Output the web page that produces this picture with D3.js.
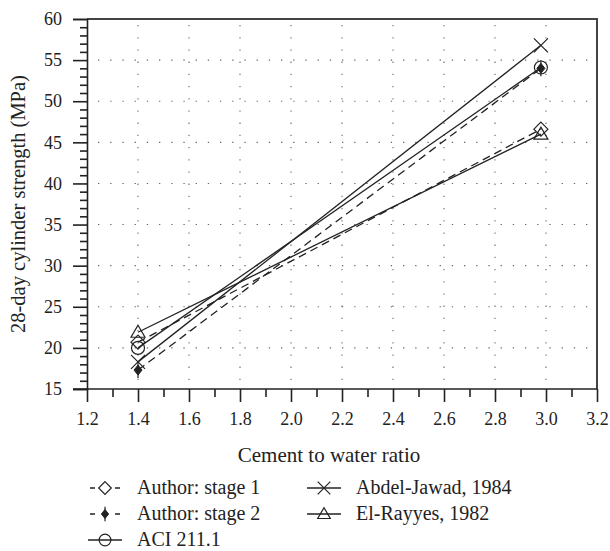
<!DOCTYPE html>
<html lang="en">
<head>
<meta charset="UTF-8">
<title>28-day cylinder strength</title>
<script src="https://cdn.jsdelivr.net/npm/d3@7"></script>
<style>
  body { margin: 0; background: #fff; }
  svg text { font-family: "Liberation Serif", "Times New Roman", serif !important; fill: #222; }
</style>
</head>
<body>
<script>
    // data
    var cwRatio = [1.4, 2.98];
    var stage1 = [20.7, 46.6];
    var stage2 = [17.3, 54.0];
    var aci = [20.0, 54.1];
    var abdelJawad = [18.3, 56.8];
    var elRayyes = [21.9, 46.0];

    var seriesNames = ["Author: stage 1", "Author: stage 2", "ACI 211.1", "Abdel-Jawad, 1984", "El-Rayyes, 1982"];
    var seriesVals = [stage1, stage2, aci, abdelJawad, elRayyes];
    var seriesSym = ["diamond", "dot", "circle", "cross", "triangle"];
    var seriesDash = [true, true, false, false, false];

    var xTicks = [1.2, 1.4, 1.6, 1.8, 2.0, 2.2, 2.4, 2.6, 2.8, 3.0, 3.2];
    var yTicks = [15, 20, 25, 30, 35, 40, 45, 50, 55, 60];

    var width = 610, height = 551;
    var svg = d3.select("body").append("svg")
        .attr("width", width)
        .attr("height", height);

    var x = d3.scaleLinear().domain([1.2, 3.2]).range([87, 597]);
    var y = d3.scaleLinear().domain([15, 60]).range([389, 19]);
    var ink = "#222";

    // dotted grid
    var grid = svg.append("g").attr("stroke", "#666").attr("stroke-width", 1.1)
        .attr("stroke-dasharray", "1.3,10.9");
    grid.selectAll(".gx").data(xTicks.slice(1, -1)).enter().append("line")
        .attr("x1", d => x(d)).attr("x2", d => x(d))
        .attr("y1", y(60) + 6).attr("y2", y(15));
    grid.selectAll(".gy").data(yTicks.slice(1, -1)).enter().append("line")
        .attr("y1", d => y(d)).attr("y2", d => y(d))
        .attr("x1", x(1.2) + 11).attr("x2", x(3.2));

    // frame top/right
    svg.append("path")
        .attr("d", "M" + x(1.2) + "," + y(60) + "H" + x(3.2) + "V" + y(15))
        .attr("fill", "none").attr("stroke", "#444").attr("stroke-width", 2);

    // axes
    var xAxis = d3.axisBottom(x).tickValues(xTicks).tickSize(13).tickPadding(10)
        .tickFormat(d3.format(".1f"));
    var gx = svg.append("g").attr("transform", "translate(0," + y(15) + ")").call(xAxis);
    var xMinor = d3.axisBottom(x).tickValues(d3.range(1.3, 3.2, 0.2)).tickSize(8).tickFormat("");
    var gxm = svg.append("g").attr("transform", "translate(0," + y(15) + ")").call(xMinor);
    gxm.select(".domain").remove();

    var yAxis = d3.axisLeft(y).tickValues(yTicks).tickSize(14).tickPadding(11);
    var gy = svg.append("g").attr("transform", "translate(" + x(1.2) + ",0)").call(yAxis);
    var yMinor = d3.axisLeft(y).tickValues(d3.range(16, 60, 1).filter(v => v % 5 !== 0))
        .tickSize(7).tickFormat("");
    var gym = svg.append("g").attr("transform", "translate(" + x(1.2) + ",0)").call(yMinor);
    gym.select(".domain").remove();

    [gx, gxm, gy, gym].forEach(function (g) {
        g.attr("font-family", null).attr("font-size", null);
        g.selectAll("line").attr("stroke", ink).attr("stroke-width", 1.6);
        g.selectAll(".domain").attr("stroke", ink).attr("stroke-width", 1.6);
        g.selectAll("text").style("font-size", "18px").attr("fill", ink);
    });
    gx.select(".domain").attr("d", "M" + (x(1.2) - 14) + ",0H" + x(3.2));

    // axis titles
    svg.append("text").attr("x", 329).attr("y", 462).attr("text-anchor", "middle")
        .style("font-size", "21px").text("Cement to water ratio");
    svg.append("text").attr("transform", "translate(25,204) rotate(-90)")
        .attr("text-anchor", "middle").style("font-size", "20.5px")
        .text("28-day cylinder strength (MPa)");

    // markers
    function drawMarker(g, sym, cx, cy, s) {
        s = s || 1;
        if (sym === "diamond") {
            g.append("path").attr("d", "M" + cx + "," + (cy - 7 * s) + "L" + (cx + 7 * s) + "," + cy +
                "L" + cx + "," + (cy + 7 * s) + "L" + (cx - 7 * s) + "," + cy + "Z")
                .attr("fill", "none").attr("stroke", ink).attr("stroke-width", 1.2);
        } else if (sym === "dot") {
            g.append("path").attr("d", "M" + cx + "," + (cy - 8 * s) + "V" + (cy + 8 * s))
                .attr("stroke", ink).attr("stroke-width", 1.2);
            g.append("path").attr("d", "M" + cx + "," + (cy - 5 * s) + "L" + (cx + 4 * s) + "," + cy +
                "L" + cx + "," + (cy + 5 * s) + "L" + (cx - 4 * s) + "," + cy + "Z")
                .attr("fill", ink).attr("stroke", ink).attr("stroke-width", 1);
        } else if (sym === "circle") {
            g.append("circle").attr("cx", cx).attr("cy", cy).attr("r", 6.5 * s)
                .attr("fill", "none").attr("stroke", ink).attr("stroke-width", 1.2);
        } else if (sym === "cross") {
            var c = 7 * s;
            g.append("path").attr("d", "M" + (cx - c) + "," + (cy - c) + "L" + (cx + c) + "," + (cy + c) +
                "M" + (cx - c) + "," + (cy + c) + "L" + (cx + c) + "," + (cy - c))
                .attr("stroke", ink).attr("stroke-width", 1.2);
        } else if (sym === "triangle") {
            g.append("path").attr("d", "M" + cx + "," + (cy - 7 * s) + "L" + (cx + 7 * s) + "," + (cy + 5 * s) +
                "L" + (cx - 7 * s) + "," + (cy + 5 * s) + "Z")
                .attr("fill", "none").attr("stroke", ink).attr("stroke-width", 1.2);
        }
    }

    var line = d3.line().x((d, i) => x(cwRatio[i])).y(d => y(d));
    var plot = svg.append("g");
    seriesVals.forEach(function (vals, k) {
        plot.append("path").datum(vals).attr("d", line)
            .attr("fill", "none").attr("stroke", ink).attr("stroke-width", 1.3)
            .attr("stroke-dasharray", seriesDash[k] ? "8,5" : null);
    });
    seriesVals.forEach(function (vals, k) {
        vals.forEach(function (v, i) {
            drawMarker(plot, seriesSym[k], x(cwRatio[i]), y(v));
        });
    });

    // legend
    var legPos = [[105, 488], [105, 514], [105, 540], [324, 488], [324, 514]];
    var leg = svg.append("g");
    seriesNames.forEach(function (name, k) {
        var cx = legPos[k][0], cy = legPos[k][1];
        if (seriesDash[k]) {
            leg.append("path").attr("d", "M" + (cx - 15) + "," + cy + "H" + (cx - 10) +
                "M" + (cx + 10) + "," + cy + "H" + (cx + 15))
                .attr("stroke", ink).attr("stroke-width", 1.3);
        } else {
            leg.append("path").attr("d", "M" + (cx - 17) + "," + cy + "H" + (cx + 17))
                .attr("stroke", ink).attr("stroke-width", 1.3);
        }
        drawMarker(leg, seriesSym[k], cx, cy, 0.9);
        leg.append("text").attr("x", cx + 32).attr("y", cy + 6).style("font-size", "20px").text(name);
    });
</script>
</body>
</html>
